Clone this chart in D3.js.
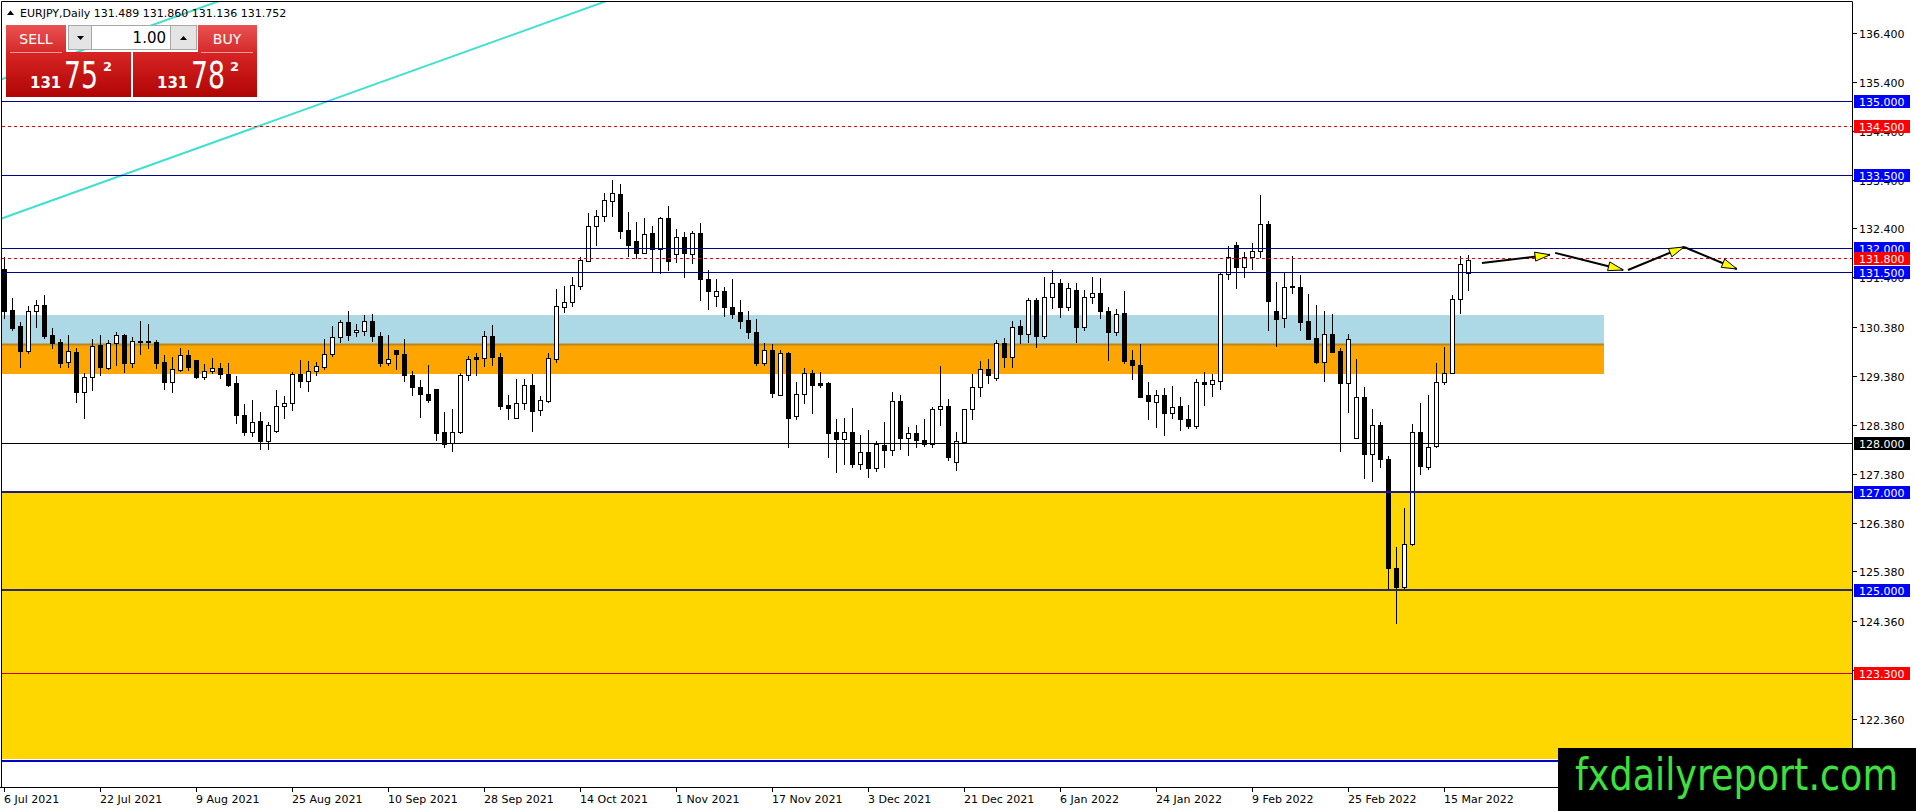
<!DOCTYPE html>
<html><head><meta charset="utf-8">
<script src="https://cdn.jsdelivr.net/npm/d3@7"></script>
<style>
html,body{margin:0;padding:0;background:#fff;overflow:hidden}
svg{display:block}
text{font-family:"DejaVu Sans",sans-serif}
</style></head><body>
<svg id="chart" width="1916" height="811"></svg>
<script>
// ---------------- DATA ----------------
const symbolTitle = "EURJPY,Daily";
const opens = [131.56,130.73,130.40,129.90,130.70,130.83,130.22,130.08,129.66,129.88,129.06,129.35,130.01,129.55,130.05,130.22,129.64,130.10,130.10,130.07,
129.66,129.26,129.51,129.81,129.71,129.35,129.49,129.54,129.43,129.23,128.58,128.24,128.46,128.04,128.26,128.77,128.82,129.42,129.28,129.49,
129.57,129.82,130.17,130.49,130.27,130.31,130.51,130.20,129.65,129.91,129.82,129.40,129.16,129.02,129.11,128.23,128.00,128.24,129.41,129.76,
129.74,130.20,129.76,128.79,128.53,128.82,129.19,128.68,128.87,129.72,130.80,130.90,131.22,131.74,132.44,132.65,132.97,133.10,132.37,132.14,
131.90,132.30,131.97,132.61,131.87,132.22,131.87,132.31,131.37,131.02,131.12,130.80,130.68,130.53,130.27,129.65,129.91,129.00,129.86,128.56,
129.01,129.44,129.23,129.24,128.24,128.10,128.23,127.57,127.82,127.49,127.97,127.87,128.86,128.11,128.21,128.06,127.99,128.70,128.77,127.61,
128.02,128.70,129.15,129.52,129.33,130.05,129.76,130.40,130.23,130.93,130.20,131.00,131.28,130.80,131.14,130.39,130.99,131.07,130.71,130.27,
130.66,129.71,129.60,128.99,128.85,128.99,128.62,128.77,128.50,128.36,129.25,129.21,129.28,131.46,132.06,131.62,131.82,131.94,132.49,130.71,
130.56,131.21,131.21,130.50,130.15,129.67,130.23,129.89,129.23,128.12,128.94,127.78,128.38,127.69,125.46,125.07,125.95,128.23,127.52,127.95,
129.26,129.45,130.95,131.489];
const highs = [131.82,130.97,130.49,130.81,130.94,131.04,130.36,130.13,130.22,129.95,129.44,130.13,130.22,130.12,130.29,130.24,130.17,130.51,130.44,130.12,
129.81,129.76,129.95,129.91,129.71,129.63,129.74,129.64,129.64,129.37,128.81,128.89,128.64,128.44,129.09,128.97,129.47,129.71,129.69,129.67,
130.13,130.40,130.53,130.70,130.44,130.62,130.64,130.27,130.22,129.91,130.14,129.49,129.30,129.61,129.11,128.64,128.70,129.45,129.78,129.86,
130.30,130.42,129.86,128.99,129.32,129.32,129.43,128.98,129.86,131.16,131.22,131.40,131.81,132.71,132.78,133.12,133.40,133.31,132.74,132.54,
132.61,132.44,132.64,132.86,132.38,132.32,132.35,132.52,131.54,131.36,131.21,131.37,130.94,130.70,130.54,130.05,130.03,129.91,129.88,129.25,
129.54,129.50,129.46,129.26,128.49,128.53,128.72,128.17,128.27,128.04,128.43,129.05,128.99,128.33,128.38,128.49,128.74,129.58,128.90,128.24,
128.70,129.42,129.69,129.72,130.12,130.15,130.51,130.53,130.97,130.97,131.40,131.55,131.36,131.28,131.29,131.14,131.40,131.38,130.80,130.76,
131.11,129.92,130.03,129.26,129.09,129.13,129.17,128.94,128.79,129.31,129.47,129.42,131.48,132.04,132.13,131.92,132.11,133.08,132.56,131.31,
131.48,131.84,131.45,131.06,130.83,130.71,130.65,129.95,130.23,129.73,129.16,128.70,128.44,127.74,125.87,126.68,128.40,128.82,128.99,129.64,
129.98,131.04,131.84,131.860];
const lows = [130.56,130.32,129.56,129.86,130.39,130.15,129.96,129.56,129.57,128.84,128.53,129.09,129.41,129.52,129.61,129.47,129.56,129.83,129.96,129.54,
129.11,129.06,129.49,129.50,129.33,129.32,129.45,129.33,129.18,128.41,128.17,128.16,127.88,127.88,128.24,128.53,128.68,129.16,129.08,129.40,
129.52,129.79,130.08,130.12,130.19,130.22,130.10,129.58,129.61,129.52,129.28,128.99,128.55,128.84,128.08,127.93,127.85,128.22,129.30,129.40,
129.59,129.61,128.70,128.49,128.52,128.70,128.26,128.58,128.85,129.67,130.68,130.81,131.17,131.74,132.06,132.56,132.66,132.20,131.84,131.79,
131.89,131.52,131.48,131.54,131.72,131.41,131.69,130.93,130.76,130.81,130.61,130.57,130.37,130.16,129.60,129.60,128.96,128.99,127.93,128.49,
128.83,128.62,129.16,127.73,127.42,127.58,127.51,127.47,127.32,127.44,127.52,127.76,127.88,127.76,127.93,127.95,127.92,128.38,127.67,127.46,
128.00,128.49,128.98,129.24,129.29,129.56,129.57,130.06,130.08,129.97,130.15,130.78,130.58,130.74,130.07,130.33,130.88,130.56,129.71,130.22,
129.65,129.32,128.96,128.49,128.34,128.18,128.53,128.27,128.31,128.31,128.78,128.98,129.11,131.36,131.19,131.41,131.56,131.81,130.33,130.00,
130.38,131.07,130.32,130.14,129.65,129.28,129.88,127.85,128.65,128.12,127.30,127.24,127.52,125.00,124.33,125.03,125.93,127.37,127.47,127.93,
129.22,129.45,130.66,131.136];
const closes = [130.70,130.36,129.90,130.71,130.83,130.20,130.06,129.65,129.89,129.06,129.35,130.00,129.57,130.05,130.22,129.64,130.10,130.07,130.07,129.65,
129.26,129.52,129.80,129.57,129.35,129.49,129.54,129.43,129.20,128.58,128.24,128.43,128.04,128.37,128.77,128.82,129.42,129.28,129.49,129.58,
129.82,130.17,130.49,130.21,130.32,130.51,130.19,129.65,129.73,129.82,129.39,129.15,129.01,128.88,128.22,127.99,128.24,129.41,129.73,129.72,
130.19,129.76,128.77,128.73,128.82,129.19,128.67,128.89,129.74,130.81,130.90,131.24,131.75,132.45,132.65,132.98,133.12,132.35,132.06,131.90,
132.28,131.97,132.61,131.74,132.22,131.89,132.31,131.36,131.11,131.12,130.79,130.65,130.51,130.27,129.65,129.91,129.03,129.86,128.53,129.01,
129.44,129.20,129.20,128.22,128.10,128.23,127.57,127.82,127.50,127.98,127.87,128.86,128.11,128.22,128.06,127.99,128.70,128.77,127.72,128.04,
128.70,129.15,129.52,129.41,130.05,129.76,130.39,130.23,130.94,130.20,131.00,131.28,130.80,131.19,130.39,130.99,131.07,130.70,130.27,130.64,
129.69,129.60,128.96,128.87,129.00,128.62,128.75,128.49,128.36,129.25,129.21,129.30,131.46,131.81,131.62,131.82,131.94,132.49,130.92,130.54,
131.21,131.22,130.49,130.14,129.67,130.23,129.88,129.23,130.13,128.94,127.78,128.38,127.69,125.46,125.07,125.95,128.23,127.54,127.93,129.26,
129.45,130.95,131.67,131.752];
const dateLabels = ["6 Jul 2021","22 Jul 2021","9 Aug 2021","25 Aug 2021","10 Sep 2021","28 Sep 2021","14 Oct 2021","1 Nov 2021",
"17 Nov 2021","3 Dec 2021","21 Dec 2021","6 Jan 2022","24 Jan 2022","9 Feb 2022","25 Feb 2022","15 Mar 2022"];
const dateLabelStep = 12;
const priceTicks = [136.4,135.4,134.4,133.4,132.4,131.4,130.38,129.38,128.38,127.38,126.38,125.38,124.36,123.36,122.36];
const priceTickLabels = ["136.400","135.400","134.400","133.400","132.400","131.400","130.380","129.380","128.380","127.380","126.380","125.380","124.360","123.360","122.360"];
const blueLevels = [135.0,133.5,132.0,131.5];
const redDashedLevels = [134.5,131.8];
const navyThickLevels = [127.0,125.0];
const blueThickLevels = [121.5];
const blackLevels = [128.0];
const redLevels = [123.3];
const taggedBlue = [135.0,133.5,132.0,131.5,127.0,125.0];
const taggedRed = [134.5,131.8,123.3];
const taggedBlack = [128.0];
const lightBlueZone = [130.03,130.62];
const orangeZone = [129.43,130.03];
const yellowZone = [121.54,127.0];
const zoneEndBar = 200;
const trendLine1 = [[0,132.62],[74.4,137.0]];
const trendLine2 = [[0,135.47],[27,137.06]];
const forecastArrows = [
  [[184.75,131.69],[193.25,131.86]],
  [[193.9,131.90],[202.4,131.55]],
  [[203.0,131.55],[210.0,132.02]],
  [[210.0,132.02],[216.6,131.57]]
];
const bidPrice = ["131","75","2"];
const askPrice = ["131","78","2"];
const lotSize = "1.00";

// ---------------- SCALES ----------------
const W = 1916, H = 811;
const plotL = 2, plotR = 1852, plotT = 2, plotB = 787;
const x = d3.scaleLinear().domain([-0.25, 231]).range([plotL, plotR]);
const y = d3.scaleLinear().domain([120.968, 137.034]).range([plotB, plotT]);
const svg = d3.select("#chart");
const defs = svg.append("defs");
defs.append("clipPath").attr("id","plotclip").append("rect")
  .attr("x",plotL).attr("y",plotT).attr("width",plotR-plotL).attr("height",plotB-plotT);
function grad(id, c1, c2){
  const g = defs.append("linearGradient").attr("id",id).attr("x1",0).attr("y1",0).attr("x2",0).attr("y2",1);
  g.append("stop").attr("offset","0%").attr("stop-color",c1);
  g.append("stop").attr("offset","100%").attr("stop-color",c2);
}
grad("gTop","#ea5252","#d62a2a");
grad("gBot","#d82424","#b00505");

svg.append("rect").attr("width",W).attr("height",H).attr("fill","#fff");
const plot = svg.append("g").attr("clip-path","url(#plotclip)");
const Y = v => Math.round(y(v));
const X = i => Math.round(x(i));

// zones
plot.append("rect").attr("x",plotL).attr("width",plotR-plotL)
  .attr("y",Y(yellowZone[1])).attr("height",Y(yellowZone[0])-Y(yellowZone[1])).attr("fill","#ffd700");
plot.append("rect").attr("x",plotL).attr("width",X(zoneEndBar)-plotL)
  .attr("y",Y(lightBlueZone[1])).attr("height",Y(lightBlueZone[0])-Y(lightBlueZone[1])).attr("fill","#add8e6");
plot.append("rect").attr("x",plotL).attr("width",X(zoneEndBar)-plotL)
  .attr("y",Y(orangeZone[1])).attr("height",Y(orangeZone[0])-Y(orangeZone[1])).attr("fill","#ffa500");
plot.append("line").attr("x1",plotL).attr("x2",X(zoneEndBar))
  .attr("y1",Y(orangeZone[1])+0.5).attr("y2",Y(orangeZone[1])+0.5)
  .attr("stroke","#b8861b").attr("stroke-width",2);

// trend lines (cyan)
function extendLine(pts){
  const [a,b] = pts; const s = (b[1]-a[1])/(b[0]-a[0]);
  const i0 = -1, i1 = 120;
  return [[x(i0), y(a[1]+s*(i0-a[0]))],[x(i1), y(a[1]+s*(i1-a[0]))]];
}
[trendLine1, trendLine2].forEach(t=>{
  const p = extendLine(t);
  plot.append("line").attr("x1",p[0][0]).attr("y1",p[0][1]).attr("x2",p[1][0]).attr("y2",p[1][1])
    .attr("stroke","#40e0d0").attr("stroke-width",2);
});

// candles
const idx = d3.range(opens.length);
const candles = plot.append("g");
candles.selectAll("line.wick").data(idx).join("line").attr("class","wick")
  .attr("x1",i=>X(i)+0.5).attr("x2",i=>X(i)+0.5)
  .attr("y1",i=>Y(highs[i])).attr("y2",i=>Y(lows[i])+1)
  .attr("stroke","#000").attr("stroke-width",1);
candles.selectAll("rect.body").data(idx).join("rect").attr("class","body")
  .each(function(i){
    const bull = closes[i] >= opens[i];
    const top = Y(Math.max(opens[i],closes[i])), bot = Y(Math.min(opens[i],closes[i]));
    const cx = X(i);
    const sel = d3.select(this);
    if(bull){
      sel.attr("x",cx-1.5).attr("y",top+0.5).attr("width",4).attr("height",Math.max(bot-top,1))
        .attr("fill","#fff").attr("stroke","#000").attr("stroke-width",1);
    } else {
      sel.attr("x",cx-2).attr("y",top).attr("width",5).attr("height",Math.max(bot-top,1)+1)
        .attr("fill","#000");
    }
  });

// horizontal levels
function hline(v, color, w, dash){
  const yy = Y(v) + (w%2 ? 0.5 : 0);
  const l = plot.append("line").attr("x1",plotL).attr("x2",plotR).attr("y1",yy).attr("y2",yy)
    .attr("stroke",color).attr("stroke-width",w);
  if(dash) l.attr("stroke-dasharray",dash);
}
blueLevels.forEach(v=>hline(v,"#00008b",1));
redDashedLevels.forEach(v=>hline(v,"#e00000",1,"3,3"));
blackLevels.forEach(v=>hline(v,"#000",1));
redLevels.forEach(v=>hline(v,"#d00000",1));
navyThickLevels.forEach((v,k)=>hline(v, k===0 ? "#1c1c80" : "#2a2a55", 2));
blueThickLevels.forEach(v=>hline(v,"#0000d0",2));

// forecast arrows
const arrowG = plot.append("g");
forecastArrows.forEach(seg=>{
  const x1=x(seg[0][0]), y1=y(seg[0][1]), x2=x(seg[1][0]), y2=y(seg[1][1]);
  arrowG.append("line").attr("x1",x1).attr("y1",y1).attr("x2",x2).attr("y2",y2)
    .attr("stroke","#000").attr("stroke-width",2);
  const ang = Math.atan2(y2-y1,x2-x1), L=15, hw=4.5;
  const bx = x2 - L*Math.cos(ang), by = y2 - L*Math.sin(ang);
  const px = -Math.sin(ang)*hw, py = Math.cos(ang)*hw;
  arrowG.append("path").attr("d",`M${x2},${y2}L${bx+px},${by+py}L${bx-px},${by-py}Z`)
    .attr("fill","#ffff00").attr("stroke","#000").attr("stroke-width",1);
});

// frame
svg.append("path").attr("d",`M${plotL-0.5},${plotT-0.5}H${plotR+0.5}V${plotB+0.5}H0`)
  .attr("fill","none").attr("stroke","#000").attr("stroke-width",1);
svg.append("line").attr("x1",plotL-0.5).attr("x2",plotL-0.5).attr("y1",plotT-0.5).attr("y2",plotB+0.5)
  .attr("stroke","#000");

// right axis ticks + labels
const ax = svg.append("g");
priceTicks.forEach((v,k)=>{
  const yy = Y(v)+0.5;
  ax.append("line").attr("x1",plotR+1).attr("x2",plotR+5).attr("y1",yy).attr("y2",yy).attr("stroke","#000");
  ax.append("text").attr("x",plotR+7).attr("y",yy+4).attr("font-size",11).attr("fill","#000").text(priceTickLabels[k]);
});
// bottom axis
dateLabels.forEach((d,k)=>{
  const xx = X(k*dateLabelStep)+0.5;
  ax.append("line").attr("x1",xx).attr("x2",xx).attr("y1",plotB+1).attr("y2",plotB+5).attr("stroke","#000");
  ax.append("text").attr("x",xx-0.5).attr("y",803).attr("font-size",11).attr("fill","#000").text(d);
});
// price tags
function tag(v,bg){
  const yy = Y(v)+0.5;
  ax.append("rect").attr("x",plotR+2).attr("y",yy-6.5).attr("width",56).attr("height",13).attr("fill",bg);
  ax.append("text").attr("x",plotR+7).attr("y",yy+4.5).attr("font-size",11).attr("fill","#fff").text(v.toFixed(3));
}
taggedBlue.forEach(v=>tag(v,"#0000ff"));
taggedRed.forEach(v=>tag(v,"#ff0000"));
taggedBlack.forEach(v=>tag(v,"#000"));

// header
const hd = svg.append("g");
hd.append("path").attr("d","M7,15L10.5,10.5L14,15Z").attr("fill","#000");
hd.append("text").attr("x",20).attr("y",17).attr("font-size",11).attr("fill","#000")
  .text(symbolTitle+"  "+[opens,highs,lows,closes].map(a=>a[a.length-1].toFixed(3)).join(" "));

// trade panel
const tp = svg.append("g").attr("font-family","'Liberation Sans',Arial,sans-serif");
tp.append("rect").attr("x",6).attr("y",25).attr("width",60).attr("height",27).attr("fill","url(#gTop)");
tp.append("rect").attr("x",198).attr("y",25).attr("width",59).attr("height",27).attr("fill","url(#gTop)");
tp.append("rect").attr("x",6).attr("y",52).attr("width",125).attr("height",45).attr("fill","url(#gBot)");
tp.append("rect").attr("x",133).attr("y",52).attr("width",124).attr("height",45).attr("fill","url(#gBot)");
tp.append("line").attr("x1",10).attr("x2",62).attr("y1",52.5).attr("y2",52.5).attr("stroke","#f29a9a");
tp.append("line").attr("x1",201).attr("x2",253).attr("y1",52.5).attr("y2",52.5).attr("stroke","#f29a9a");
tp.append("text").attr("x",36).attr("y",44).attr("text-anchor","middle").attr("font-size",14).attr("fill","#fff").text("SELL");
tp.append("text").attr("x",227).attr("y",44).attr("text-anchor","middle").attr("font-size",14).attr("fill","#fff").text("BUY");
tp.append("rect").attr("x",68.5).attr("y",25.5).attr("width",128).attr("height",24).attr("fill","#fff").attr("stroke","#a8a8a8");
tp.append("rect").attr("x",68.5).attr("y",25.5).attr("width",23).attr("height",24).attr("fill","#e4e4e4").attr("stroke","#a8a8a8");
tp.append("rect").attr("x",170.5).attr("y",25.5).attr("width",26).attr("height",24).attr("fill","#e4e4e4").attr("stroke","#a8a8a8");
tp.append("path").attr("d","M77,36H84L80.5,40Z").attr("fill","#000");
tp.append("path").attr("d","M180,40H187L183.5,36Z").attr("fill","#000");
tp.append("text").attr("x",166).attr("y",43).attr("text-anchor","end").attr("font-size",15).attr("fill","#000").text(lotSize);
function bigPrice(x0, parts){
  tp.append("text").attr("x",x0).attr("y",88).attr("font-size",15).attr("font-weight","bold").attr("fill","#fff").text(parts[0]);
  tp.append("text").attr("x",x0+34).attr("y",88).attr("font-size",37).attr("fill","#fff")
    .attr("textLength",34).attr("lengthAdjust","spacingAndGlyphs").text(parts[1]);
  tp.append("text").attr("x",x0+73).attr("y",71).attr("font-size",13).attr("font-weight","bold").attr("fill","#fff").text(parts[2]);
}
bigPrice(30, bidPrice);
bigPrice(157, askPrice);

// watermark
svg.append("rect").attr("x",1558).attr("y",748).attr("width",358).attr("height",63).attr("fill","#000");
svg.append("text").attr("x",1575).attr("y",790).attr("font-family","'Liberation Sans',Arial,sans-serif")
  .attr("font-size",45).attr("fill","#3ee03e").attr("textLength",323).attr("lengthAdjust","spacingAndGlyphs")
  .text("fxdailyreport.com");
</script>
</body></html>
